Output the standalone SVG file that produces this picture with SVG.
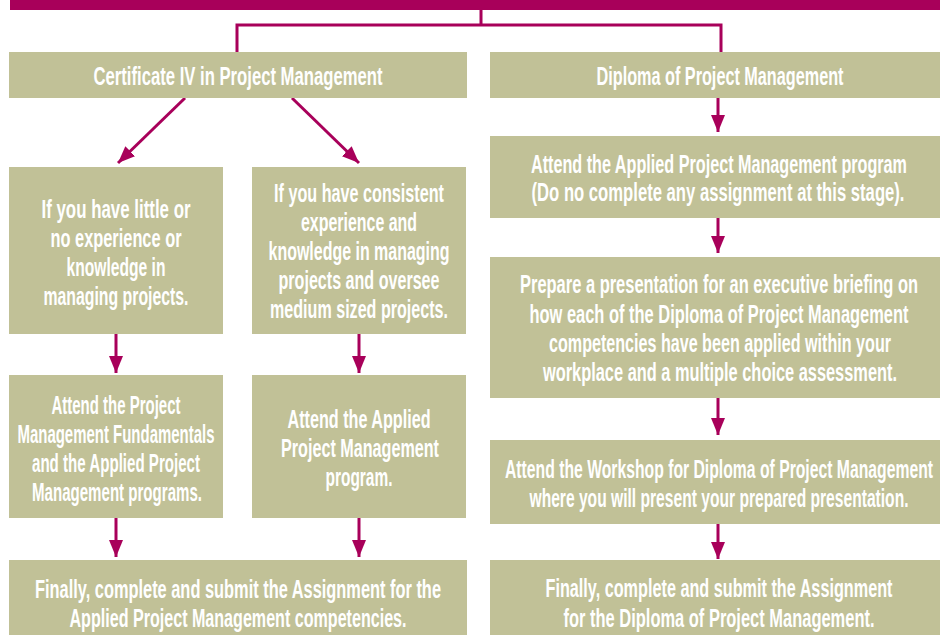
<svg xmlns="http://www.w3.org/2000/svg" width="940" height="635" viewBox="0 0 940 635">
<style>
.box{fill:#C1C197}
.t{font-family:"Liberation Sans Narrow","Liberation Sans","DejaVu Sans Condensed",sans-serif;font-size:25px;font-weight:bold;fill:#FFFFFF;text-anchor:middle}
.ln{stroke:#A8005A;stroke-width:3;fill:none}
</style>
<defs>
<marker id="ah" viewBox="0 0 17 14" refX="17" refY="7" markerWidth="17" markerHeight="14" markerUnits="userSpaceOnUse" orient="auto">
<path d="M0,0 L17,7 L0,14 Z" fill="#A8005A"/>
</marker>
</defs>
<rect id="titlebar" x="10" y="0" width="930" height="10" fill="#A8005A"/>
<g id="connectors">
<path class="ln" d="M481,10 V25 M237,25 H721 M237,23.5 V52 M721,23.5 V52"/>
<line class="ln" x1="185" y1="98" x2="118" y2="163" marker-end="url(#ah)"/>
<line class="ln" x1="292" y1="98" x2="359" y2="163" marker-end="url(#ah)"/>
<line class="ln" x1="116" y1="334" x2="116" y2="373" marker-end="url(#ah)"/>
<line class="ln" x1="359" y1="334" x2="359" y2="373" marker-end="url(#ah)"/>
<line class="ln" x1="116" y1="518" x2="116" y2="557" marker-end="url(#ah)"/>
<line class="ln" x1="359" y1="518" x2="359" y2="557" marker-end="url(#ah)"/>
<line class="ln" x1="718" y1="97" x2="718" y2="132" marker-end="url(#ah)"/>
<line class="ln" x1="718" y1="218" x2="718" y2="253" marker-end="url(#ah)"/>
<line class="ln" x1="718" y1="398" x2="718" y2="435" marker-end="url(#ah)"/>
<line class="ln" x1="718" y1="524" x2="718" y2="559" marker-end="url(#ah)"/>
</g>
<g id="cert4">
<rect class="box" x="9" y="52" width="458" height="46"/>
<text class="t" x="238" y="85" textLength="289" lengthAdjust="spacingAndGlyphs">Certificate IV in Project Management</text>
</g>
<g id="diploma">
<rect class="box" x="490" y="52" width="450" height="46"/>
<text class="t" x="720" y="85" textLength="247" lengthAdjust="spacingAndGlyphs">Diploma of Project Management</text>
</g>
<g id="little">
<rect class="box" x="9" y="167" width="214" height="167"/>
<text class="t" x="116" y="218" textLength="149" lengthAdjust="spacingAndGlyphs">If you have little or</text>
<text class="t" x="116" y="247" textLength="131" lengthAdjust="spacingAndGlyphs">no experience or</text>
<text class="t" x="116" y="276" textLength="99" lengthAdjust="spacingAndGlyphs">knowledge in</text>
<text class="t" x="116" y="305" textLength="145" lengthAdjust="spacingAndGlyphs">managing projects.</text>
</g>
<g id="consistent">
<rect class="box" x="252" y="167" width="214" height="167"/>
<text class="t" x="359" y="202" textLength="170" lengthAdjust="spacingAndGlyphs">If you have consistent</text>
<text class="t" x="359" y="231" textLength="116" lengthAdjust="spacingAndGlyphs">experience and</text>
<text class="t" x="359" y="260" textLength="181" lengthAdjust="spacingAndGlyphs">knowledge in managing</text>
<text class="t" x="359" y="289" textLength="161" lengthAdjust="spacingAndGlyphs">projects and oversee</text>
<text class="t" x="359" y="318" textLength="178" lengthAdjust="spacingAndGlyphs">medium sized projects.</text>
</g>
<g id="fundamentals">
<rect class="box" x="9" y="375" width="214" height="143"/>
<text class="t" x="116" y="414" textLength="129" lengthAdjust="spacingAndGlyphs">Attend the Project</text>
<text class="t" x="116" y="443" textLength="197" lengthAdjust="spacingAndGlyphs">Management Fundamentals</text>
<text class="t" x="116" y="472" textLength="168" lengthAdjust="spacingAndGlyphs">and the Applied Project</text>
<text class="t" x="117" y="501" textLength="170" lengthAdjust="spacingAndGlyphs">Management programs.</text>
</g>
<g id="applied-left">
<rect class="box" x="252" y="375" width="214" height="143"/>
<text class="t" x="359" y="428" textLength="143" lengthAdjust="spacingAndGlyphs">Attend the Applied</text>
<text class="t" x="360" y="457" textLength="158" lengthAdjust="spacingAndGlyphs">Project Management</text>
<text class="t" x="359" y="486" textLength="67" lengthAdjust="spacingAndGlyphs">program.</text>
</g>
<g id="final-left">
<rect class="box" x="9" y="560" width="458" height="75"/>
<text class="t" x="238" y="598" textLength="406" lengthAdjust="spacingAndGlyphs">Finally, complete and submit the Assignment for the</text>
<text class="t" x="238" y="627" textLength="337" lengthAdjust="spacingAndGlyphs">Applied Project Management competencies.</text>
</g>
<g id="applied-right">
<rect class="box" x="490" y="136" width="450" height="82"/>
<text class="t" x="719" y="173" textLength="376" lengthAdjust="spacingAndGlyphs">Attend the Applied Project Management program</text>
<text class="t" x="718" y="201" textLength="373" lengthAdjust="spacingAndGlyphs">(Do no complete any assignment at this stage).</text>
</g>
<g id="prepare">
<rect class="box" x="490" y="257" width="450" height="141"/>
<text class="t" x="719" y="293" textLength="398" lengthAdjust="spacingAndGlyphs">Prepare a presentation for an executive briefing on</text>
<text class="t" x="719" y="323" textLength="379" lengthAdjust="spacingAndGlyphs">how each of the Diploma of Project Management</text>
<text class="t" x="720" y="352" textLength="342" lengthAdjust="spacingAndGlyphs">competencies have been applied within your</text>
<text class="t" x="720" y="381" textLength="354" lengthAdjust="spacingAndGlyphs">workplace and a multiple choice assessment.</text>
</g>
<g id="workshop">
<rect class="box" x="490" y="440" width="450" height="84"/>
<text class="t" x="719" y="478" textLength="428" lengthAdjust="spacingAndGlyphs">Attend the Workshop for Diploma of Project Management</text>
<text class="t" x="719" y="507" textLength="379" lengthAdjust="spacingAndGlyphs">where you will present your prepared presentation.</text>
</g>
<g id="final-right">
<rect class="box" x="490" y="560" width="450" height="75"/>
<text class="t" x="719" y="597" textLength="347" lengthAdjust="spacingAndGlyphs">Finally, complete and submit the Assignment</text>
<text class="t" x="719" y="627" textLength="311" lengthAdjust="spacingAndGlyphs">for the Diploma of Project Management.</text>
</g>
</svg>
